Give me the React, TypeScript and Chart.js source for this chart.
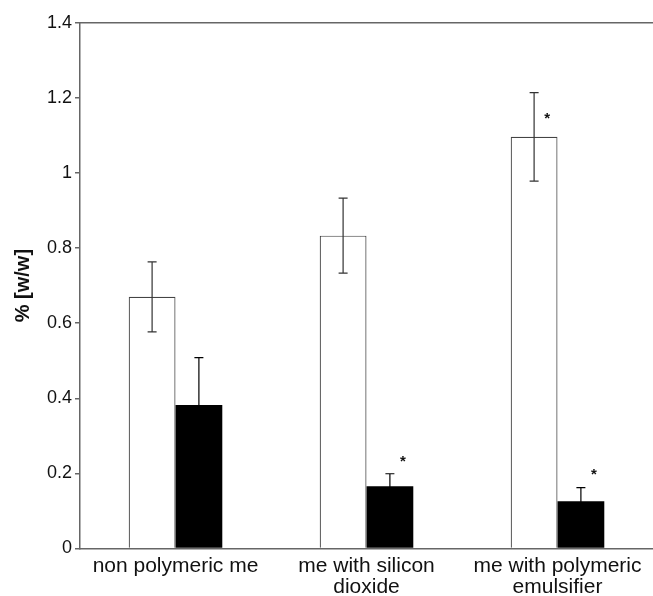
import React, { useEffect, useRef } from "react";
import { Chart, registerables } from "chart.js";

Chart.register(...registerables);

const categories: string[][] = [
  ["non polymeric me"],
  ["me with silicon", "dioxide"],
  ["me with polymeric", "emulsifier"],
];
const whiteValues = [0.67, 0.833, 1.096];
const whiteErrors = [0.093, 0.1, 0.118];
const blackValues = [0.382, 0.166, 0.126];
const blackErrors = [0.126, 0.033, 0.036];
// y-values (data units) where significance asterisks sit; null = none
const whiteStars: (number | null)[] = [null, null, 1.153];
const blackStars: (number | null)[] = [null, 0.238, 0.205];
const yTickLabels = ["0", "0.2", "0.4", "0.6", "0.8", "1", "1.2", "1.4"];
const yTitle = "% [w/w]";

const FONT = "'Liberation Sans', Arial, sans-serif";

const errorBarPlugin = {
  id: "errorBars",
  afterDatasetsDraw(chart: any) {
    const ctx = chart.ctx;
    const yScale = chart.scales.y;
    const sets = [
      { idx: 0, vals: whiteValues, errs: whiteErrors, stars: whiteStars, color: "#333" },
      { idx: 1, vals: blackValues, errs: blackErrors, stars: blackStars, color: "#000" },
    ];
    ctx.save();
    // top border
    const a = chart.chartArea;
    ctx.strokeStyle = "#666";
    ctx.lineWidth = 1.5;
    ctx.beginPath();
    ctx.moveTo(a.left, a.top);
    ctx.lineTo(a.right, a.top);
    ctx.stroke();

    for (const s of sets) {
      const meta = chart.getDatasetMeta(s.idx);
      meta.data.forEach((bar: any, i: number) => {
        const x = bar.x;
        const yTop = yScale.getPixelForValue(s.vals[i] + s.errs[i]);
        const yBot = yScale.getPixelForValue(s.vals[i] - s.errs[i]);
        ctx.strokeStyle = s.color;
        ctx.lineWidth = 1.2;
        ctx.beginPath();
        ctx.moveTo(x, yTop);
        ctx.lineTo(x, yBot);
        ctx.moveTo(x - 4.5, yTop);
        ctx.lineTo(x + 4.5, yTop);
        ctx.moveTo(x - 4.5, yBot);
        ctx.lineTo(x + 4.5, yBot);
        ctx.stroke();
        const st = s.stars[i];
        if (st !== null && st !== undefined) {
          ctx.fillStyle = "#111";
          ctx.font = `bold 15px ${FONT}`;
          ctx.textAlign = "center";
          ctx.textBaseline = "middle";
          ctx.fillText("*", x + 13, yScale.getPixelForValue(st) + 3);
        }
      });
    }
    ctx.restore();
  },
};

export default function App() {
  const ref = useRef<HTMLCanvasElement | null>(null);
  useEffect(() => {
    if (!ref.current) return;
    const chart = new Chart(ref.current, {
      type: "bar",
      data: {
        labels: categories,
        datasets: [
          {
            data: whiteValues,
            backgroundColor: "#ffffff",
            borderColor: "#444",
            borderWidth: 1.2,
            borderSkipped: "bottom",
            categoryPercentage: 0.49,
            barPercentage: 1.0,
          },
          {
            data: blackValues,
            backgroundColor: "#000000",
            borderWidth: 0,
            categoryPercentage: 0.49,
            barPercentage: 1.0,
          },
        ],
      },
      options: {
        responsive: true,
        maintainAspectRatio: false,
        animation: false,
        layout: { padding: { top: 22.7, right: 0, bottom: 0, left: 0 } },
        plugins: { legend: { display: false }, tooltip: { enabled: false } },
        scales: {
          x: {
            grid: { display: false, drawTicks: false },
            border: { display: true, color: "#666", width: 1.5 },
            ticks: {
              color: "#111",
              font: { family: FONT, size: 21, lineHeight: 0.97 },
              padding: 8,
              maxRotation: 0,
              autoSkip: false,
            },
            afterFit: (scale: any) => {
              scale.height = 47.5;
            },
          },
          y: {
            min: 0,
            max: 1.4,
            grid: { drawOnChartArea: false, drawTicks: true, tickLength: 5, color: "#666", lineWidth: 1.5 },
            border: { display: true, color: "#666", width: 1.5 },
            ticks: {
              stepSize: 0.2,
              color: "#111",
              padding: 3,
              font: { family: FONT, size: 18 },
              callback: (_v: any, i: number) => yTickLabels[i],
            },
            title: {
              display: true,
              text: yTitle,
              color: "#111",
              font: { family: FONT, size: 20, weight: "bold" },
              padding: { top: 11, bottom: 0 },
            },
            afterFit: (scale: any) => {
              scale.width = 80;
            },
          },
        },
      },
      plugins: [errorBarPlugin],
    } as any);
    return () => chart.destroy();
  }, []);
  return (
    <div style={{ position: "fixed", left: 0, top: 0, width: 653, height: 596, background: "#fff" }}>
      <canvas ref={ref} style={{ width: "100%", height: "100%" }} />
    </div>
  );
}
